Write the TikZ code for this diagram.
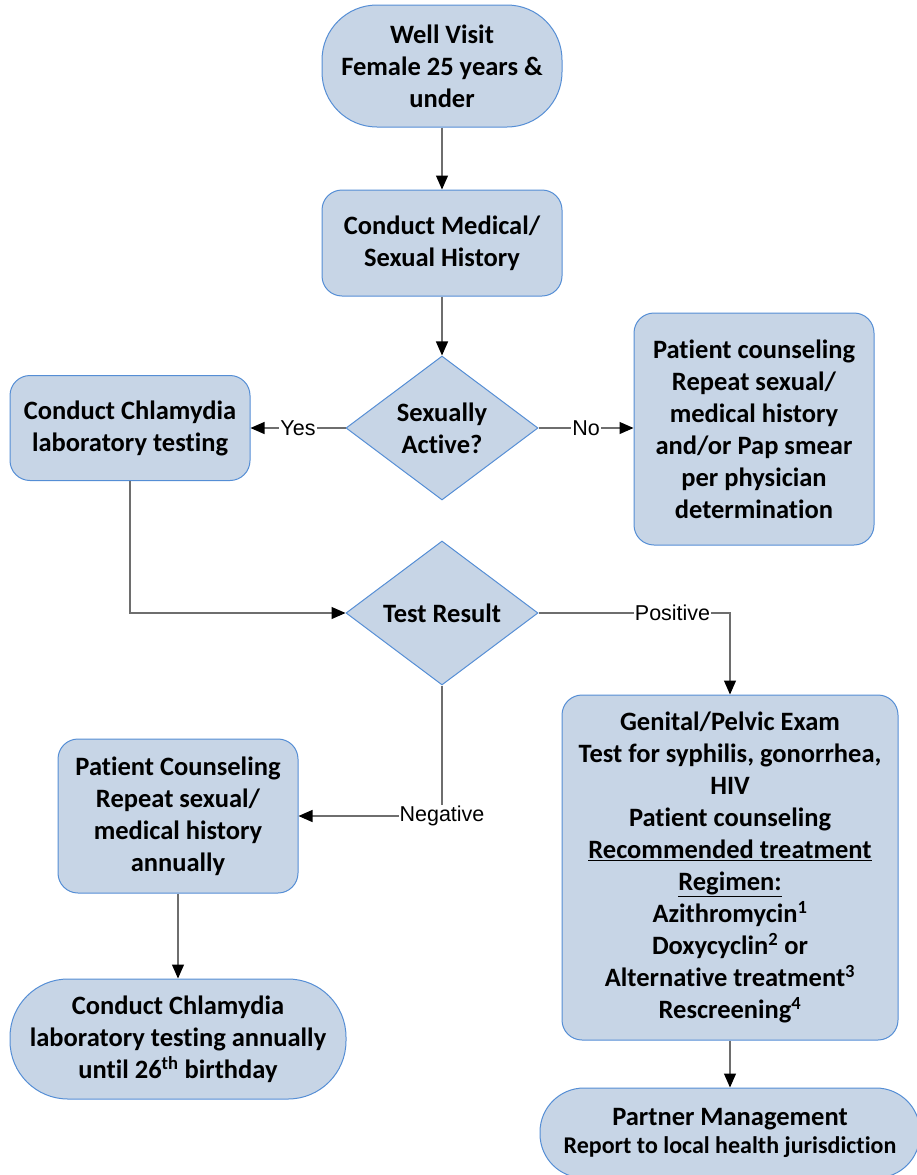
\documentclass[tikz,border=0pt]{standalone}
\usepackage{fontspec}
\setmainfont{Carlito}[Ligatures=NoCommon]
\newfontfamily\lblfont{Liberation Sans}
\usetikzlibrary{shapes.geometric,arrows.meta}
\definecolor{boxfill}{RGB}{199,213,230}
\definecolor{boxline}{RGB}{85,142,213}
\definecolor{linkgray}{RGB}{110,110,110}
\tikzset{
  base/.style={draw=boxline, fill=boxfill, line width=1pt, align=center, inner sep=0pt,
    font=\fontsize{26.5}{32}\selectfont\bfseries},
  terminal/.style={base, rounded corners=#1},
  process/.style={base, rounded corners=20pt},
  decision/.style={base, diamond, aspect=1.333, minimum width=192pt, minimum height=144pt},
  link/.style={draw=linkgray, line width=1.2pt, -{Triangle[width=12pt,length=14pt,color=black]}},
  lbl/.style={font=\lblfont\fontsize{21.5}{24}\selectfont, fill=white, inner sep=1pt}
}

\begin{document}
\begin{tikzpicture}[x=1pt,y=-1pt]
% The page is measured in pixels of the original chart, y runs downwards
\useasboundingbox (0,0) rectangle (917,1175);
% The main column
\node[terminal=55pt, minimum width=240pt, minimum height=122pt] (visit) at (442,66) {Well Visit\\Female 25 years \&\\under};
\node[process, minimum width=240pt, minimum height=106pt] (history) at (442,243) {Conduct Medical/\\Sexual History};
\node[decision] (active) at (442,428) {Sexually\\Active?};
\node[decision] (result) at (442,613) {Test Result};
% The boxes either side of the first question
\node[process, minimum width=240pt, minimum height=105pt] (testing) at (130,428) {Conduct Chlamydia\\laboratory testing};
\node[process, minimum width=240pt, minimum height=232pt] (pap) at (754,429) {Patient counseling\\Repeat sexual/\\medical history\\and/or Pap smear\\per physician\\determination};
% The negative branch
\node[process, minimum width=240pt, minimum height=154pt] (negcouns) at (178,816) {Patient Counseling\\Repeat sexual/\\medical history\\annually};
\node[terminal=58pt, minimum width=336pt, minimum height=120pt] (annual) at (178,1039) {Conduct Chlamydia\\laboratory testing annually\\until 26\textsuperscript{th} birthday};
% The positive branch
\node[process, minimum width=336pt, minimum height=345pt] (exam) at (730,867.5) {Genital/Pelvic Exam\\Test for syphilis, gonorrhea,\\HIV\\Patient counseling\\\underline{Recommended treatment}\\\underline{Regimen:}\\Azithromycin\textsuperscript{1}\\Doxycyclin\textsuperscript{2} or\\Alternative treatment\textsuperscript{3}\\Rescreening\textsuperscript{4}};
\node[terminal=44pt, minimum width=380pt, minimum height=90pt] (partner) at (730,1133) {Partner Management\\[-4pt]\fontsize{24}{28}\selectfont Report to local health jurisdiction};
% The connectors
\draw[link] (visit) -- (history);
\draw[link] (history) -- (active);
\draw[link] (active.west) -- node[lbl]{Yes} (testing.east);
\draw[link] (active.east) -- node[lbl]{No} (pap.west |- active.east);
\draw[link] (testing) |- (result);
\draw[link] (result) -| node[lbl, pos=0.35]{Positive} (exam);
\draw[link] (result) |- node[lbl]{Negative} (negcouns);
\draw[link] (negcouns) -- (annual);
\draw[link] (exam) -- (partner);
\end{tikzpicture}
\end{document}
